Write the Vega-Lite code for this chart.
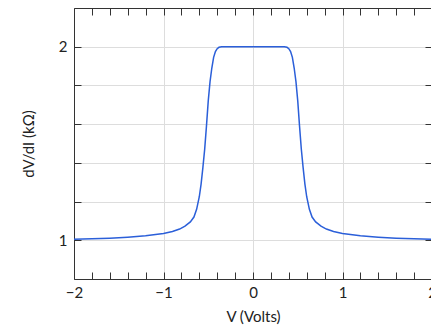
{
  "$schema": "https://vega.github.io/schema/vega-lite/v6.json",
  "width": 358,
  "height": 271,
  "autosize": {"type": "none"},
  "padding": {"left": 74, "top": 8, "right": 0, "bottom": 49},
  "data": {"values": [
    {"V": -2.0, "R": 1.005}, {"V": -1.8, "R": 1.008}, {"V": -1.6, "R": 1.011}, {"V": -1.4, "R": 1.016},
    {"V": -1.2, "R": 1.023}, {"V": -1.0, "R": 1.035}, {"V": -0.9, "R": 1.045}, {"V": -0.82, "R": 1.058},
    {"V": -0.76, "R": 1.073}, {"V": -0.7, "R": 1.095}, {"V": -0.66, "R": 1.12}, {"V": -0.63, "R": 1.16},
    {"V": -0.6, "R": 1.225}, {"V": -0.58, "R": 1.29}, {"V": -0.56, "R": 1.375}, {"V": -0.54, "R": 1.47},
    {"V": -0.52, "R": 1.59}, {"V": -0.5, "R": 1.72}, {"V": -0.48, "R": 1.82}, {"V": -0.46, "R": 1.89},
    {"V": -0.44, "R": 1.945}, {"V": -0.42, "R": 1.975}, {"V": -0.4, "R": 1.99}, {"V": -0.38, "R": 1.997},
    {"V": -0.35, "R": 2.0}, {"V": -0.2, "R": 2.0}, {"V": 0.0, "R": 2.0}, {"V": 0.2, "R": 2.0},
    {"V": 0.35, "R": 2.0}, {"V": 0.38, "R": 1.997}, {"V": 0.4, "R": 1.99}, {"V": 0.42, "R": 1.975},
    {"V": 0.44, "R": 1.945}, {"V": 0.46, "R": 1.89}, {"V": 0.48, "R": 1.82}, {"V": 0.5, "R": 1.72},
    {"V": 0.52, "R": 1.59}, {"V": 0.54, "R": 1.47}, {"V": 0.56, "R": 1.375}, {"V": 0.58, "R": 1.29},
    {"V": 0.6, "R": 1.225}, {"V": 0.63, "R": 1.16}, {"V": 0.66, "R": 1.12}, {"V": 0.7, "R": 1.095},
    {"V": 0.76, "R": 1.073}, {"V": 0.82, "R": 1.058}, {"V": 0.9, "R": 1.045}, {"V": 1.0, "R": 1.035},
    {"V": 1.2, "R": 1.023}, {"V": 1.4, "R": 1.016}, {"V": 1.6, "R": 1.011}, {"V": 1.8, "R": 1.008},
    {"V": 2.0, "R": 1.005}
  ]},
  "config": {
    "view": {"stroke": null},
    "axis": {
      "domainColor": "#333333", "tickColor": "#333333", "domainWidth": 1, "tickWidth": 1,
      "labelFont": "Lato", "titleFont": "Lato", "labelFontSize": 15, "titleFontSize": 15,
      "labelColor": "#222222", "titleColor": "#222222", "titleFontWeight": "normal",
      "gridColor": "#dddddd", "gridWidth": 1, "labelFlush": false, "labelOverlap": false
    }
  },
  "layer": [
    {
      "mark": {"type": "line", "color": "#2b5fd9", "strokeWidth": 1.5, "clip": true},
      "encoding": {
        "x": {"field": "V", "type": "quantitative", "scale": {"domain": [-2, 2], "nice": false, "zero": false},
          "axis": {"orient": "bottom", "values": [-2, -1.8, -1.6, -1.4, -1.2, -1, -0.8, -0.6, -0.4, -0.2, 0, 0.2, 0.4, 0.6, 0.8, 1, 1.2, 1.4, 1.6, 1.8, 2],
            "format": "~g", "grid": true, "tickSize": -7, "labelPadding": 13, "title": "V (Volts)", "titlePadding": 9,
            "labelExpr": "abs(datum.value - round(datum.value)) < 0.01 ? datum.label : ''",
            "gridOpacity": {"condition": {"test": "abs(datum.value - round(datum.value)) < 0.01", "value": 1}, "value": 0},
            "encode": {"ticks": {"update": {"y2": {"signal": "abs(datum.value - round(datum.value)) < 0.01 ? -7 : -4"}}}}}},
        "y": {"field": "R", "type": "quantitative", "scale": {"domain": [0.8, 2.2], "nice": false, "zero": false},
          "axis": {"orient": "left", "values": [1, 1.2, 1.4, 1.6, 1.8, 2], "format": "~g", "grid": true, "tickSize": -7, "labelPadding": 14,
            "labelExpr": "datum.value == 1 || datum.value == 2 ? datum.label : ''", "title": "dV/dI (kΩ)", "titlePadding": 22}}
      }
    },
    {
      "mark": {"type": "line", "opacity": 0},
      "encoding": {
        "x": {"field": "V", "type": "quantitative",
          "axis": {"orient": "top", "values": [-2, -1.8, -1.6, -1.4, -1.2, -1, -0.8, -0.6, -0.4, -0.2, 0, 0.2, 0.4, 0.6, 0.8, 1, 1.2, 1.4, 1.6, 1.8, 2],
            "grid": false, "tickSize": -7, "labels": false, "title": null,
            "encode": {"ticks": {"update": {"y2": {"signal": "abs(datum.value - round(datum.value)) < 0.01 ? 7 : 4"}}}}}},
        "y": {"field": "R", "type": "quantitative",
          "axis": {"orient": "right", "values": [1, 1.2, 1.4, 1.6, 1.8, 2], "grid": false, "tickSize": -7, "labels": false, "title": null}}
      }
    }
  ],
  "resolve": {"axis": {"x": "independent", "y": "independent"}}
}
